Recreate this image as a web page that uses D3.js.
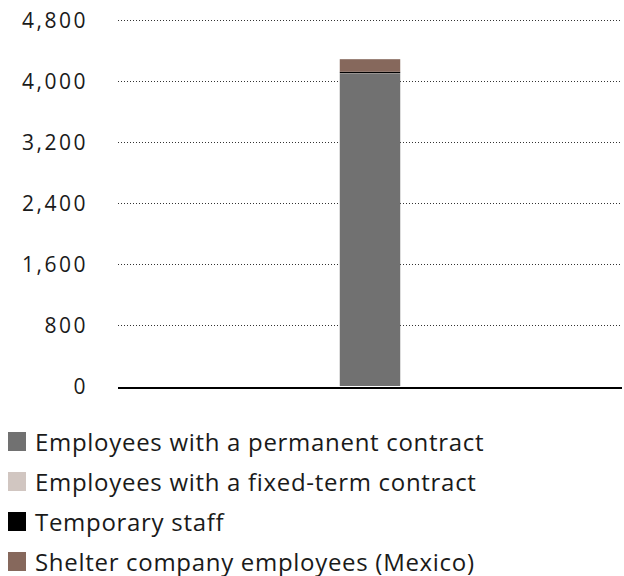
<!DOCTYPE html>
<html>
<head>
<meta charset="utf-8">
<script src="https://cdn.jsdelivr.net/npm/d3@7"></script>
<style>
body { margin: 0; background: #fff; }
text { font-family: "Open Sans", Lato, sans-serif; fill: #1a1a1a; }
</style>
</head>
<body>
<svg width="624" height="576"></svg>
<script>
var categories = ["Total"];
var seriesNames = ["Employees with a permanent contract", "Employees with a fixed-term contract", "Temporary staff", "Shelter company employees (Mexico)"];
var seriesColors = ["#717171", "#d1c6c1", "#000000", "#86685c"];
var permanent = [4095];
var fixedTerm = [6];
var temporary = [20];
var shelter = [165];
var yTicks = [0, 800, 1600, 2400, 3200, 4000, 4800];

var svg = d3.select("svg");

var plotLeft = 118, plotRight = 622, plotTop = 20, plotBottom = 386;

var rows = categories.map(function(c, i) {
    return { cat: c, s0: permanent[i], s1: fixedTerm[i], s2: temporary[i], s3: shelter[i] };
});

var stack = d3.stack().keys(["s0", "s1", "s2", "s3"]);
var layers = stack(rows);

var x = d3.scaleBand()
    .domain(categories)
    .range([plotLeft, plotRight])
    .paddingInner(0.88)
    .paddingOuter(0.44);

var y = d3.scaleLinear()
    .domain([0, 4800])
    .range([plotBottom, plotTop]);

// gridlines
svg.append("g")
    .selectAll("line")
    .data(yTicks.filter(function(d) { return d > 0; }))
    .enter().append("line")
    .attr("x1", plotLeft)
    .attr("x2", plotRight)
    .attr("y1", function(d) { return Math.round(y(d)) + 0.5; })
    .attr("y2", function(d) { return Math.round(y(d)) + 0.5; })
    .attr("stroke", "#333")
    .attr("stroke-width", 1)
    .attr("stroke-dasharray", "1,2");

// tick labels
svg.append("g")
    .selectAll("text")
    .data(yTicks)
    .enter().append("text")
    .attr("x", 88)
    .attr("y", function(d) { return y(d); })
    .attr("dy", "0.36em")
    .attr("text-anchor", "end")
    .attr("font-size", 21)
    .attr("letter-spacing", 2.5)
    .text(function(d) { return d3.format(",")(d); });

// bars
svg.append("g")
    .selectAll("g")
    .data(layers)
    .enter().append("g")
    .attr("fill", function(d, i) { return seriesColors[i]; })
    .selectAll("rect")
    .data(function(d) { return d; })
    .enter().append("rect")
    .attr("x", function(d) { return x(d.data.cat); })
    .attr("width", x.bandwidth())
    .attr("y", function(d) { return y(d[1]); })
    .attr("height", function(d) { return y(d[0]) - y(d[1]); });

// baseline
svg.append("line")
    .attr("x1", plotLeft)
    .attr("x2", plotRight)
    .attr("y1", plotBottom + 2)
    .attr("y2", plotBottom + 2)
    .attr("stroke", "#000")
    .attr("stroke-width", 2);

// legend
var legend = svg.append("g")
    .selectAll("g")
    .data(seriesNames)
    .enter().append("g")
    .attr("transform", function(d, i) { return "translate(8," + (442 + i * 40) + ")"; });

legend.append("rect")
    .attr("x", 0)
    .attr("y", -10)
    .attr("width", 18)
    .attr("height", 19)
    .attr("fill", function(d, i) { return seriesColors[i]; });

legend.append("text")
    .attr("x", 27)
    .attr("y", 0)
    .attr("dy", "0.36em")
    .attr("font-size", 24)
    .attr("letter-spacing", 0.7)
    .text(function(d) { return d; });
</script>
</body>
</html>
